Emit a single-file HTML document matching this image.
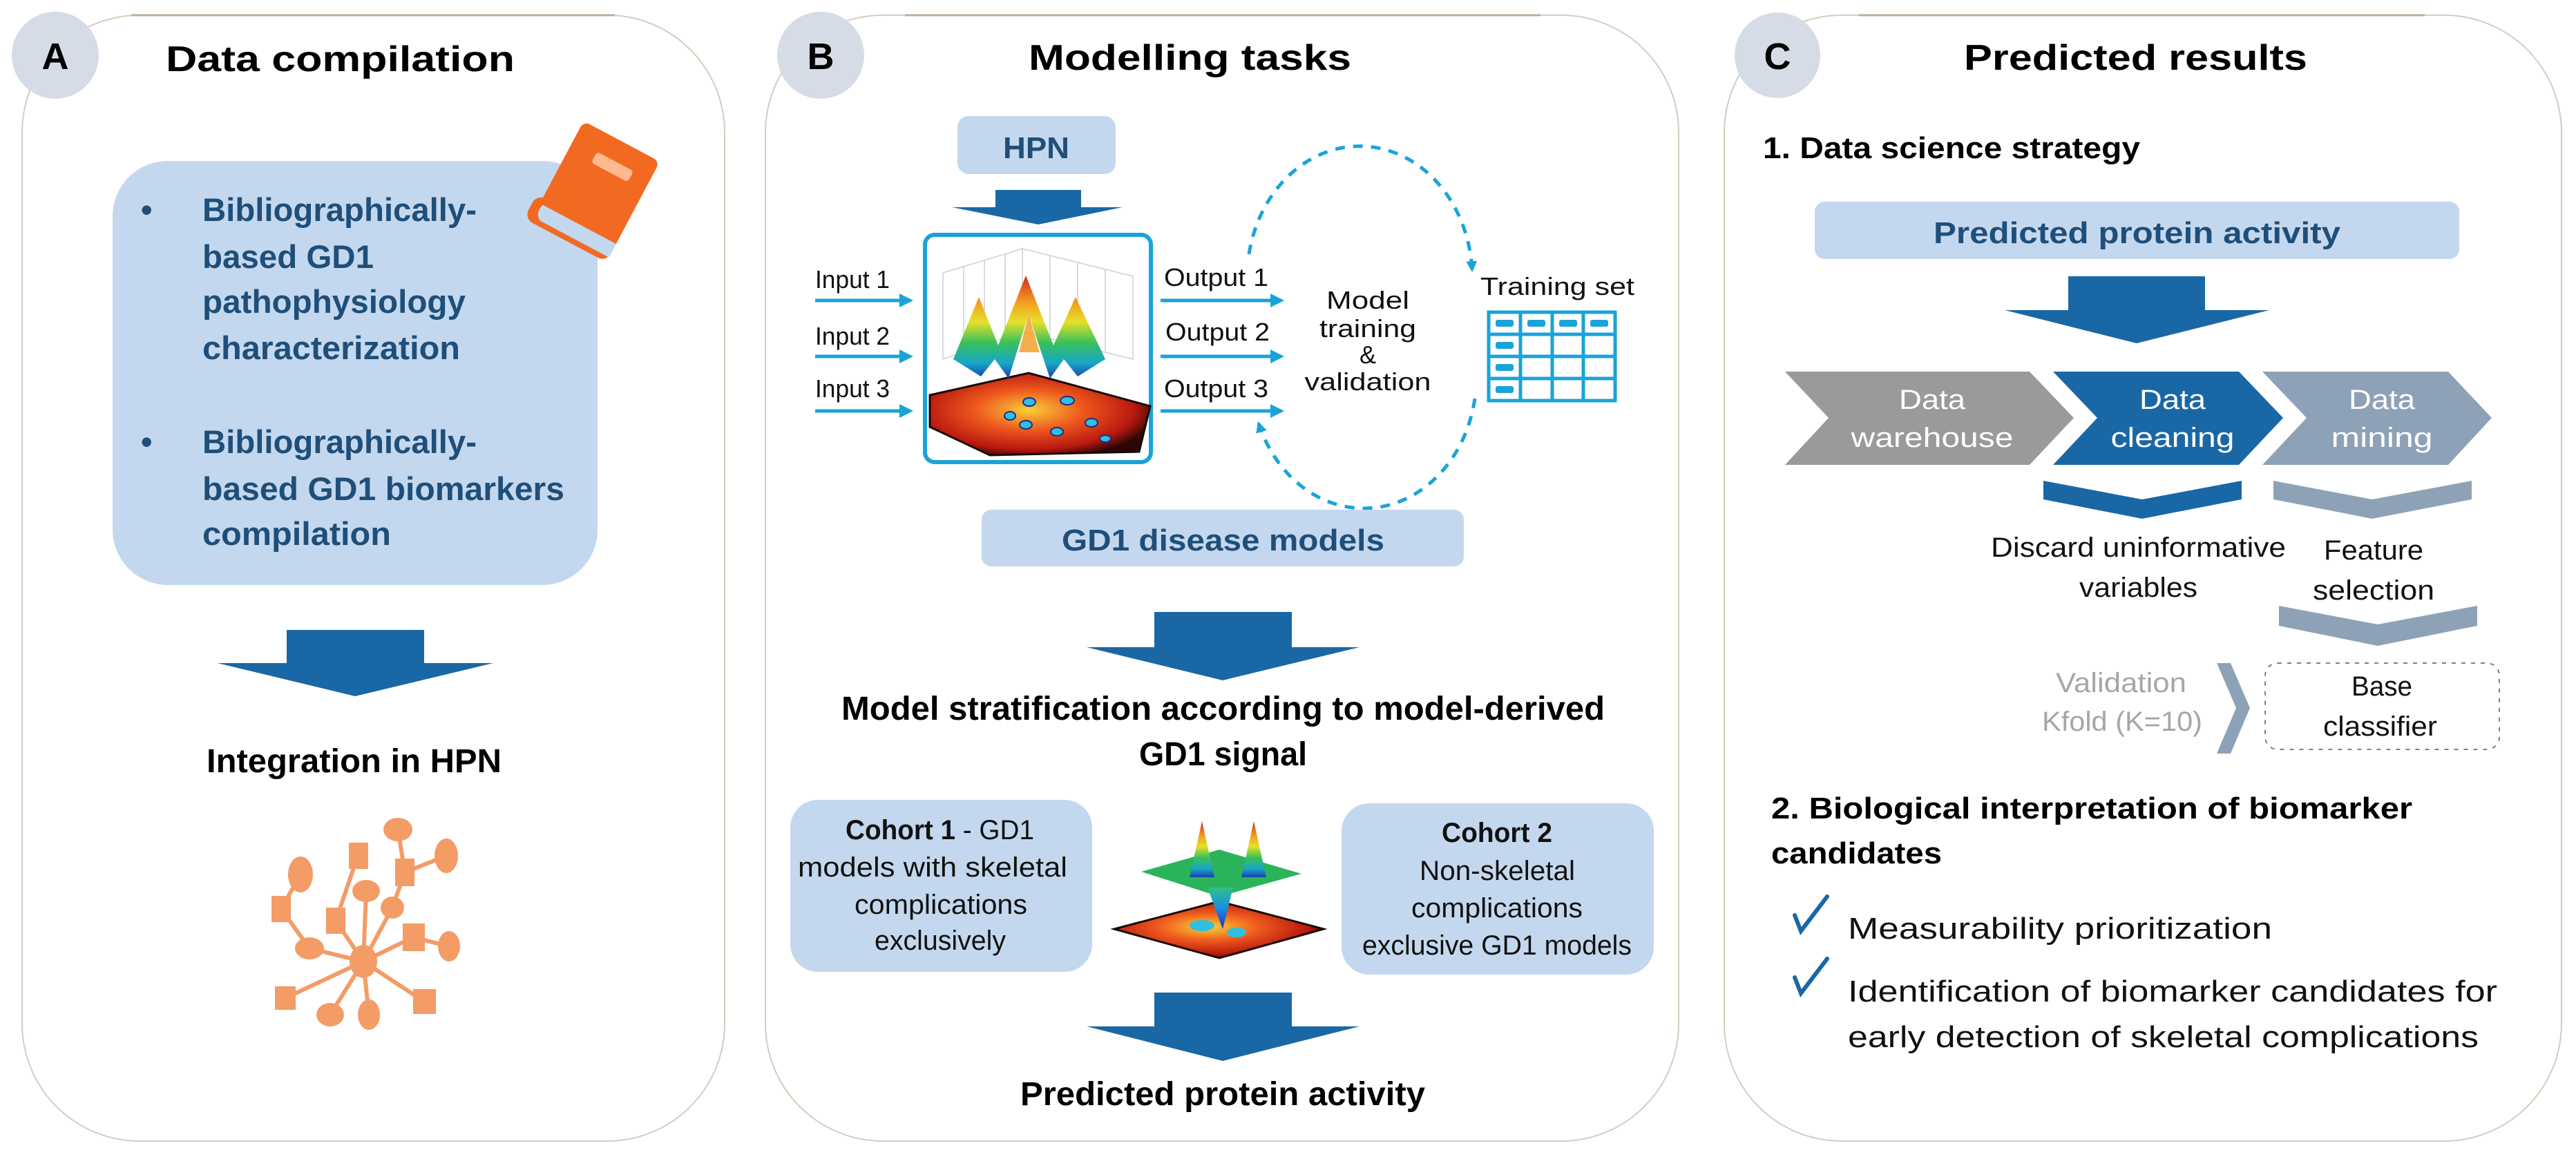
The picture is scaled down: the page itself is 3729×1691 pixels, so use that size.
<!DOCTYPE html>
<html><head><meta charset="utf-8"><style>
html,body{margin:0;padding:0;background:#fff;}
svg{display:block;}
text{font-family:"Liberation Sans",sans-serif;}
</style></head><body>
<svg width="3729" height="1691" viewBox="0 0 3729 1691" xmlns="http://www.w3.org/2000/svg">
<defs>
<marker id="ah" viewBox="0 0 10 10" refX="8" refY="5" markerWidth="4" markerHeight="4" orient="auto"><path d="M0,0 L10,5 L0,10 z" fill="#1aa3d9"/></marker>
<marker id="ah2" viewBox="0 0 10 10" refX="8" refY="5" markerWidth="3.2" markerHeight="3.2" orient="auto"><path d="M0,0 L10,5 L0,10 z" fill="#1aa3d9"/></marker>
<linearGradient id="peak" x1="0" y1="0" x2="0" y2="1"><stop offset="0" stop-color="#d7261e"/><stop offset="0.25" stop-color="#f39a1f"/><stop offset="0.45" stop-color="#e6e02a"/><stop offset="0.65" stop-color="#39c15a"/><stop offset="0.85" stop-color="#18a6c8"/><stop offset="1" stop-color="#1b3fb0"/></linearGradient>
<radialGradient id="heat" cx="0.45" cy="0.45" r="0.6"><stop offset="0" stop-color="#f8d03a"/><stop offset="0.4" stop-color="#ef5a1e"/><stop offset="0.8" stop-color="#b8180f"/><stop offset="1" stop-color="#2a0604"/></radialGradient>
<linearGradient id="funnel" x1="0" y1="0" x2="0" y2="1"><stop offset="0" stop-color="#2fc08a"/><stop offset="0.5" stop-color="#1a8ee0"/><stop offset="1" stop-color="#1b2fc0"/></linearGradient>
</defs>

<!-- Panels -->
<rect x="32" y="22" width="1017" height="1630" rx="170" fill="#fff" stroke="#d6ccbe" stroke-width="2"/>
<rect x="1108" y="22" width="1322" height="1630" rx="170" fill="#fff" stroke="#d6ccbe" stroke-width="2"/>
<rect x="2496" y="22" width="1212" height="1630" rx="170" fill="#fff" stroke="#d6ccbe" stroke-width="2"/>
<line x1="190" y1="22" x2="890" y2="22" stroke="#bcae9c" stroke-width="3"/>
<line x1="1310" y1="22" x2="2230" y2="22" stroke="#bcae9c" stroke-width="3"/>
<line x1="2690" y1="22" x2="3510" y2="22" stroke="#bcae9c" stroke-width="3"/>

<!-- Circles -->
<circle cx="80" cy="80" r="63" fill="#d5dce5"/>
<circle cx="1188" cy="80" r="63" fill="#d5dce5"/>
<circle cx="2573" cy="80" r="62" fill="#d5dce5"/>
<text x="80" y="100" font-size="54" font-weight="bold" text-anchor="middle" fill="#000">A</text>
<text x="1188" y="100" font-size="54" font-weight="bold" text-anchor="middle" fill="#000">B</text>
<text x="2573" y="100" font-size="54" font-weight="bold" text-anchor="middle" fill="#000">C</text>

<!-- Titles -->
<text x="240" y="103" font-size="52" font-weight="bold" textLength="505" lengthAdjust="spacingAndGlyphs">Data compilation</text>
<text x="1489" y="101" font-size="52" font-weight="bold" textLength="467" lengthAdjust="spacingAndGlyphs">Modelling tasks</text>
<text x="2843" y="101" font-size="52" font-weight="bold" textLength="497" lengthAdjust="spacingAndGlyphs">Predicted results</text>

<!-- ===== Panel A ===== -->
<rect x="163" y="233" width="702" height="614" rx="80" fill="#c3d8ee"/>
<g fill="#1f4e79" font-weight="bold" font-size="47">
<text x="204" y="320">•</text>
<text x="293" y="320" textLength="397" lengthAdjust="spacingAndGlyphs">Bibliographically-</text>
<text x="293" y="388" textLength="248" lengthAdjust="spacingAndGlyphs">based GD1</text>
<text x="293" y="453" textLength="381" lengthAdjust="spacingAndGlyphs">pathophysiology</text>
<text x="293" y="520" textLength="373" lengthAdjust="spacingAndGlyphs">characterization</text>
<text x="204" y="656">•</text>
<text x="293" y="656" textLength="397" lengthAdjust="spacingAndGlyphs">Bibliographically-</text>
<text x="293" y="724" textLength="524" lengthAdjust="spacingAndGlyphs">based GD1 biomarkers</text>
<text x="293" y="789" textLength="273" lengthAdjust="spacingAndGlyphs">compilation</text>
</g>
<!-- book -->
<g transform="rotate(28 862 275)">
<rect x="800" y="195" width="125" height="160" rx="10" fill="#f26a22"/>
<rect x="790" y="320" width="135" height="40" rx="14" fill="#f26a22"/>
<path d="M805,330 Q800,345 812,352 L925,352 L925,330 Z" fill="#c3d8ee"/>
<rect x="838" y="225" width="60" height="18" rx="5" fill="#ffb98f"/>
</g>

<!-- arrow A -->
<rect x="415" y="912" width="199" height="49" fill="#1a67a6"/>
<polygon points="315,960 714,960 514,1008" fill="#1a67a6"/>
<text x="299" y="1118" font-size="48" font-weight="bold" textLength="427" lengthAdjust="spacingAndGlyphs">Integration in HPN</text>

<!-- network -->
<g stroke="#f39c66" stroke-width="6" fill="none">
<line x1="526" y1="1392" x2="568" y2="1314"/><line x1="568" y1="1314" x2="586" y2="1263"/><line x1="586" y1="1263" x2="576" y2="1201"/><line x1="586" y1="1263" x2="646" y2="1239"/>
<line x1="526" y1="1392" x2="486" y2="1333"/><line x1="486" y1="1333" x2="518" y2="1239"/>
<line x1="526" y1="1392" x2="530" y2="1290"/>
<line x1="526" y1="1392" x2="448" y2="1373"/><line x1="448" y1="1373" x2="407" y2="1316"/><line x1="407" y1="1316" x2="435" y2="1266"/>
<line x1="526" y1="1392" x2="598" y2="1357"/><line x1="598" y1="1357" x2="650" y2="1370"/>
<line x1="526" y1="1392" x2="413" y2="1445"/><line x1="526" y1="1392" x2="478" y2="1469"/><line x1="526" y1="1392" x2="534" y2="1469"/><line x1="526" y1="1392" x2="614" y2="1450"/>
</g>
<g fill="#f39c66">
<ellipse cx="526" cy="1392" rx="20" ry="24"/>
<ellipse cx="576" cy="1201" rx="21" ry="17"/>
<rect x="505" y="1220" width="28" height="38"/>
<ellipse cx="646" cy="1239" rx="17" ry="25"/>
<rect x="572" y="1243" width="28" height="40"/>
<ellipse cx="435" cy="1266" rx="18" ry="26"/>
<ellipse cx="530" cy="1290" rx="20" ry="16"/>
<ellipse cx="568" cy="1314" rx="17" ry="16"/>
<rect x="393" y="1297" width="28" height="38"/>
<rect x="472" y="1314" width="28" height="38"/>
<rect x="583" y="1337" width="32" height="40"/>
<ellipse cx="650" cy="1370" rx="16" ry="22"/>
<ellipse cx="448" cy="1373" rx="21" ry="16"/>
<rect x="398" y="1428" width="30" height="34"/>
<ellipse cx="478" cy="1469" rx="20" ry="17"/>
<ellipse cx="534" cy="1469" rx="16" ry="22"/>
<rect x="598" y="1432" width="33" height="36"/>
</g>

<!-- ===== Panel B ===== -->
<rect x="1386" y="168" width="229" height="84" rx="16" fill="#c3d8ee"/>
<text x="1500" y="229" font-size="44" font-weight="bold" fill="#1f4e79" text-anchor="middle" textLength="96" lengthAdjust="spacingAndGlyphs">HPN</text>
<rect x="1441" y="275" width="124" height="26" fill="#1a67a6"/>
<polygon points="1378,300 1625,300 1503,325" fill="#1a67a6"/>

<!-- inputs -->
<g font-size="36" fill="#111">
<text x="1180" y="417" textLength="108" lengthAdjust="spacingAndGlyphs">Input 1</text>
<text x="1180" y="499" textLength="108" lengthAdjust="spacingAndGlyphs">Input 2</text>
<text x="1180" y="575" textLength="108" lengthAdjust="spacingAndGlyphs">Input 3</text>
<text x="1685" y="414" textLength="151" lengthAdjust="spacingAndGlyphs">Output 1</text>
<text x="1687" y="493" textLength="151" lengthAdjust="spacingAndGlyphs">Output 2</text>
<text x="1685" y="575" textLength="151" lengthAdjust="spacingAndGlyphs">Output 3</text>
<text x="1980" y="447" text-anchor="middle" textLength="120" lengthAdjust="spacingAndGlyphs">Model</text>
<text x="1980" y="488" text-anchor="middle" textLength="140" lengthAdjust="spacingAndGlyphs">training</text>
<text x="1980" y="526" text-anchor="middle">&amp;</text>
<text x="1980" y="565" text-anchor="middle" textLength="183" lengthAdjust="spacingAndGlyphs">validation</text>
<text x="2143" y="427" textLength="223" lengthAdjust="spacingAndGlyphs">Training set</text>
</g>
<g stroke="#1aa3d9" stroke-width="5" fill="none">
<line x1="1180" y1="435" x2="1318" y2="435" marker-end="url(#ah)"/>
<line x1="1180" y1="516" x2="1318" y2="516" marker-end="url(#ah)"/>
<line x1="1180" y1="595" x2="1318" y2="595" marker-end="url(#ah)"/>
<line x1="1680" y1="435" x2="1855" y2="435" marker-end="url(#ah)"/>
<line x1="1680" y1="516" x2="1855" y2="516" marker-end="url(#ah)"/>
<line x1="1680" y1="595" x2="1855" y2="595" marker-end="url(#ah)"/>
<path d="M1808,368 A163,191 0 0 1 2131,391" stroke-dasharray="14,12" marker-end="url(#ah2)"/>
<path d="M2135,577 A163,191 0 0 1 1822,613" stroke-dasharray="14,12" marker-end="url(#ah2)"/>
</g>
<!-- table -->
<g stroke="#1aa3d9" stroke-width="5" fill="none">
<rect x="2155" y="452" width="183" height="128"/>
<line x1="2201" y1="452" x2="2201" y2="580"/><line x1="2247" y1="452" x2="2247" y2="580"/><line x1="2292" y1="452" x2="2292" y2="580"/>
<line x1="2155" y1="484" x2="2338" y2="484"/><line x1="2155" y1="516" x2="2338" y2="516"/><line x1="2155" y1="548" x2="2338" y2="548"/>
</g>
<g fill="#1aa3d9">
<rect x="2165" y="463" width="26" height="10" rx="3"/><rect x="2211" y="463" width="26" height="10" rx="3"/><rect x="2257" y="463" width="26" height="10" rx="3"/><rect x="2302" y="463" width="26" height="10" rx="3"/>
<rect x="2165" y="495" width="26" height="10" rx="3"/><rect x="2165" y="527" width="26" height="10" rx="3"/><rect x="2165" y="559" width="26" height="10" rx="3"/>
</g>

<!-- surface plot box -->
<rect x="1339" y="340" width="327" height="329" rx="14" fill="#fff" stroke="#1aa3d9" stroke-width="6"/>
<g stroke="#cfcfcf" stroke-width="1.5" fill="none">
<path d="M1365,395 L1480,360 L1640,400 L1640,520 L1480,480 L1365,520 Z"/>
<line x1="1480" y1="360" x2="1480" y2="480"/>
<line x1="1395" y1="386" x2="1395" y2="510"/><line x1="1425" y1="377" x2="1425" y2="500"/><line x1="1455" y1="368" x2="1455" y2="490"/>
<line x1="1520" y1="370" x2="1520" y2="490"/><line x1="1560" y1="380" x2="1560" y2="500"/><line x1="1600" y1="390" x2="1600" y2="510"/>
</g>
<polygon points="1346,572 1489,540 1665,588 1649,654 1433,659 1346,618" fill="url(#heat)" stroke="#1a0a05" stroke-width="3"/>
<g fill="#2fc0e0" stroke="#1a2a90" stroke-width="2">
<ellipse cx="1490" cy="582" rx="9" ry="6"/><ellipse cx="1545" cy="580" rx="10" ry="6"/><ellipse cx="1485" cy="615" rx="9" ry="6"/>
<ellipse cx="1530" cy="625" rx="9" ry="6"/><ellipse cx="1580" cy="612" rx="9" ry="6"/><ellipse cx="1462" cy="602" rx="8" ry="6"/><ellipse cx="1600" cy="635" rx="8" ry="5"/>
</g>
<path d="M1380,520 L1417,430 L1445,500 L1485,399 L1525,500 L1557,430 L1600,520 L1560,545 L1540,520 L1520,548 L1489,455 L1460,548 L1440,520 L1420,545 Z" fill="url(#peak)"/>
<path d="M1475,510 L1489,455 L1505,510 Z" fill="#f39a1f" opacity="0.8"/>

<!-- GD1 disease models -->
<rect x="1421" y="738" width="698" height="82" rx="14" fill="#c3d8ee"/>
<text x="1537" y="797" font-size="44" font-weight="bold" fill="#1f4e79" textLength="467" lengthAdjust="spacingAndGlyphs">GD1 disease models</text>
<rect x="1671" y="886" width="199" height="52" fill="#1a67a6"/>
<polygon points="1573,937 1968,937 1770,985" fill="#1a67a6"/>
<text x="1218" y="1042" font-size="48" font-weight="bold" textLength="1105" lengthAdjust="spacingAndGlyphs">Model stratification according to model-derived</text>
<text x="1649" y="1108" font-size="48" font-weight="bold" textLength="243" lengthAdjust="spacingAndGlyphs">GD1 signal</text>

<rect x="1144" y="1158" width="437" height="249" rx="40" fill="#c3d8ee"/>
<rect x="1942" y="1163" width="452" height="248" rx="40" fill="#c3d8ee"/>
<g font-size="40" fill="#111">
<text x="1224" y="1215" textLength="273" lengthAdjust="spacingAndGlyphs"><tspan font-weight="bold">Cohort 1</tspan> - GD1</text>
<text x="1155" y="1269" textLength="390" lengthAdjust="spacingAndGlyphs">models with skeletal</text>
<text x="1237" y="1323" textLength="250" lengthAdjust="spacingAndGlyphs">complications</text>
<text x="1266" y="1375" textLength="190" lengthAdjust="spacingAndGlyphs">exclusively</text>
<text x="2087" y="1219" font-weight="bold" textLength="160" lengthAdjust="spacingAndGlyphs">Cohort 2</text>
<text x="2055" y="1274" textLength="225" lengthAdjust="spacingAndGlyphs">Non-skeletal</text>
<text x="2043" y="1328" textLength="248" lengthAdjust="spacingAndGlyphs">complications</text>
<text x="1972" y="1382" textLength="390" lengthAdjust="spacingAndGlyphs">exclusive GD1 models</text>
</g>
<!-- center image -->
<polygon points="1613,1345 1765,1305 1916,1345 1765,1387" fill="url(#heat)" stroke="#1a0a05" stroke-width="3"/>
<ellipse cx="1740" cy="1340" rx="18" ry="8" fill="#2fc0e0"/><ellipse cx="1790" cy="1350" rx="14" ry="7" fill="#2fc0e0"/>
<polygon points="1652,1262 1765,1230 1884,1265 1765,1298" fill="#2bb35a"/>
<polygon points="1748,1285 1785,1285 1770,1345" fill="url(#funnel)"/>
<path d="M1722,1270 L1740,1189 L1758,1270 Z" fill="url(#peak)"/>
<path d="M1797,1270 L1815,1189 L1833,1270 Z" fill="url(#peak)"/>

<rect x="1671" y="1437" width="199" height="50" fill="#1a67a6"/>
<polygon points="1573,1486 1968,1486 1770,1536" fill="#1a67a6"/>
<text x="1477" y="1600" font-size="48" font-weight="bold" textLength="586" lengthAdjust="spacingAndGlyphs">Predicted protein activity</text>

<!-- ===== Panel C ===== -->
<text x="2552" y="229" font-size="44" font-weight="bold" textLength="546" lengthAdjust="spacingAndGlyphs">1. Data science strategy</text>
<rect x="2627" y="292" width="933" height="83" rx="14" fill="#c3d8ee"/>
<text x="2799" y="352" font-size="44" font-weight="bold" fill="#1f4e79" textLength="589" lengthAdjust="spacingAndGlyphs">Predicted protein activity</text>
<rect x="2994" y="400" width="198" height="50" fill="#1a67a6"/>
<polygon points="2902,449 3285,449 3093,497" fill="#1a67a6"/>

<polygon points="2584,538 2938,538 3002,605 2938,673 2584,673 2647,605" fill="#9a9a9a"/>
<polygon points="2972,538 3241,538 3305,605 3241,673 2972,673 3036,605" fill="#1a67a6"/>
<polygon points="3275,538 3544,538 3607,605 3544,673 3275,673 3339,605" fill="#8ea2b7"/>
<g fill="#fff" font-size="40" text-anchor="middle">
<text x="2797" y="592" textLength="96" lengthAdjust="spacingAndGlyphs">Data</text>
<text x="2797" y="647" textLength="235" lengthAdjust="spacingAndGlyphs">warehouse</text>
<text x="3145" y="592" textLength="96" lengthAdjust="spacingAndGlyphs">Data</text>
<text x="3145" y="647" textLength="179" lengthAdjust="spacingAndGlyphs">cleaning</text>
<text x="3448" y="592" textLength="96" lengthAdjust="spacingAndGlyphs">Data</text>
<text x="3448" y="647" textLength="147" lengthAdjust="spacingAndGlyphs">mining</text>
</g>
<polygon points="2958,696 3101,723 3245,696 3245,723 3101,751 2958,723" fill="#1a67a6"/>
<polygon points="3291,696 3434,723 3578,696 3578,723 3434,751 3291,723" fill="#8ea2b7"/>
<g font-size="40" fill="#111">
<text x="2882" y="806" textLength="427" lengthAdjust="spacingAndGlyphs">Discard uninformative</text>
<text x="3010" y="864" textLength="171" lengthAdjust="spacingAndGlyphs">variables</text>
<text x="3364" y="810" textLength="144" lengthAdjust="spacingAndGlyphs">Feature</text>
<text x="3348" y="868" textLength="176" lengthAdjust="spacingAndGlyphs">selection</text>
<text x="3404" y="1007" textLength="88" lengthAdjust="spacingAndGlyphs">Base</text>
<text x="3363" y="1065" textLength="165" lengthAdjust="spacingAndGlyphs">classifier</text>
</g>
<polygon points="3299,877 3442,904 3586,877 3586,906 3442,935 3299,906" fill="#8ea2b7"/>
<g font-size="40" fill="#a6a6a6">
<text x="2976" y="1002" textLength="189" lengthAdjust="spacingAndGlyphs">Validation</text>
<text x="2956" y="1058" textLength="232" lengthAdjust="spacingAndGlyphs">Kfold (K=10)</text>
</g>
<polygon points="3209,960 3229,960 3257,1025 3229,1091 3209,1091 3237,1025" fill="#8ea2b7"/>
<rect x="3279" y="960" width="339" height="125" rx="18" fill="none" stroke="#555" stroke-width="1.5" stroke-dasharray="6,8"/>

<text x="2564" y="1185" font-size="44" font-weight="bold" textLength="928" lengthAdjust="spacingAndGlyphs">2. Biological interpretation of biomarker</text>
<text x="2564" y="1250" font-size="44" font-weight="bold" textLength="247" lengthAdjust="spacingAndGlyphs">candidates</text>
<g stroke="#1a67a6" stroke-width="6" fill="none" stroke-linecap="round">
<path d="M2598,1325 L2607,1348 L2645,1298"/>
<path d="M2598,1415 L2607,1438 L2645,1388"/>
</g>
<g font-size="44" fill="#111">
<text x="2675" y="1359" textLength="614" lengthAdjust="spacingAndGlyphs">Measurability prioritization</text>
<text x="2675" y="1450" textLength="940" lengthAdjust="spacingAndGlyphs">Identification of biomarker candidates for</text>
<text x="2675" y="1516" textLength="913" lengthAdjust="spacingAndGlyphs">early detection of skeletal complications</text>
</g>
</svg>
</body></html>
